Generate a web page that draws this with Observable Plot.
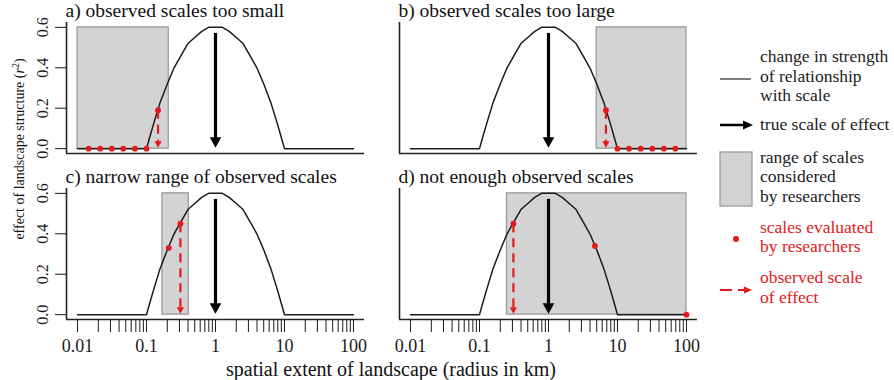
<!DOCTYPE html>
<html>
<head>
<meta charset="utf-8">
<script src="https://cdn.jsdelivr.net/npm/d3@7"></script>
<script src="https://cdn.jsdelivr.net/npm/@observablehq/plot@0.6"></script>
<style>
  html, body { margin: 0; padding: 0; background: #fff; }
  #chart svg { display: block; }
</style>
</head>
<body>
<div id="chart"></div>
<script>
// ---------- data ----------
const panelIds = ["a", "b", "c", "d"];
const panelTitles = [
  "a) observed scales too small",
  "b) observed scales too large",
  "c) narrow range of observed scales",
  "d) not enough observed scales"
];
const panelCols = [0, 1, 0, 1];
const panelRows = [0, 0, 1, 1];

// change in strength of relationship with scale (same curve in every panel)
const curveX = [0.01, 0.1, 0.112, 0.126, 0.158, 0.2, 0.251, 0.316, 0.398, 0.501, 0.631, 0.794, 1,
                1.26, 1.58, 2, 2.51, 3.16, 3.98, 5.01, 6.31, 7.94, 8.91, 10, 100];
const curveY = [0, 0, 0.06, 0.12, 0.23, 0.32, 0.40, 0.46, 0.52, 0.55, 0.58, 0.60, 0.60,
                0.60, 0.58, 0.55, 0.52, 0.46, 0.40, 0.32, 0.23, 0.12, 0.06, 0, 0];

// range of scales considered by researchers (grey boxes)
const rangeLow = [0.01, 5, 0.17, 0.25];
const rangeHigh = [0.21, 100, 0.41, 100];
const rangeBottom = [0, 0, 0, 0];
const rangeTop = [0.6, 0.6, 0.6, 0.6];

// true scale of effect (black arrows)
const trueScaleX = [1, 1, 1, 1];
const trueScaleTop = [0.57, 0.57, 0.57, 0.57];

// observed scale of effect (red dashed arrows)
const observedX = [0.147, 6.8, 0.31, 0.31];
const observedY = [0.19, 0.19, 0.45, 0.45];

// scales evaluated by researchers (red points)
const evalPanel = ["a","a","a","a","a","a","a", "b","b","b","b","b","b","b", "c","c", "d","d","d"];
const evalX = [0.0145, 0.0213, 0.0313, 0.046, 0.068, 0.1, 0.147,
               6.8, 10, 14.7, 21.7, 32, 47, 69,
               0.21, 0.31,
               0.31, 4.7, 100];
const evalY = [0, 0, 0, 0, 0, 0, 0.19,
               0.19, 0, 0, 0, 0, 0, 0,
               0.33, 0.45,
               0.45, 0.34, 0];

// axis ticks
const xMajorTicks = [0.01, 0.1, 1, 10, 100];
const xMajorLabels = ["0.01", "0.1", "1", "10", "100"];
const xMinorTicks = [0.02, 0.03, 0.04, 0.05, 0.06, 0.07, 0.08, 0.09,
                     0.2, 0.3, 0.4, 0.5, 0.6, 0.7, 0.8, 0.9,
                     2, 3, 4, 5, 6, 7, 8, 9,
                     20, 30, 40, 50, 60, 70, 80, 90];
const yTicks = [0, 0.2, 0.4, 0.6];
const yTickLabels = ["0.0", "0.2", "0.4", "0.6"];

// ---------- tables built from the arrays ----------
const panels = panelIds.map((id, i) => ({
  id, title: panelTitles[i], col: panelCols[i], row: panelRows[i],
  lo: rangeLow[i], hi: rangeHigh[i], yb: rangeBottom[i], yt: rangeTop[i],
  tx: trueScaleX[i], ttop: trueScaleTop[i],
  ox: observedX[i], oy: observedY[i], zero: 0
}));
const curve = curveX.map((x, i) => ({x, y: curveY[i]}));
const evals = evalX.map((x, i) => {
  const p = panelIds.indexOf(evalPanel[i]);
  return {x, y: evalY[i], col: panelCols[p], row: panelRows[p]};
});

const red = "#e31a1c";
const FONT = "Liberation Serif, Times New Roman, Times, serif";
const arrowDown = {
  draw(ctx, size) {
    const r = Math.sqrt(size / Math.PI);
    ctx.moveTo(0, 0);
    ctx.lineTo(-r, -1.8 * r);
    ctx.lineTo(r, -1.8 * r);
    ctx.closePath();
  }
};

const xDomain = [Math.pow(10, -2.16), Math.pow(10, 2.16)];
const yDomain = [-0.024, 0.624];

const chart = Plot.plot({
  width: 894,
  height: 380,
  marginLeft: 66,
  marginRight: 197,
  marginTop: 22,
  marginBottom: 61,
  style: {background: "#fff", color: "#1a1a1a"},
  x: {type: "log", domain: xDomain, label: null},
  y: {domain: yDomain, label: null},
  fx: {domain: [0, 1], paddingInner: 35 / 333, paddingOuter: 0, axis: null, label: null},
  fy: {domain: [0, 1], paddingInner: 35 / 166, paddingOuter: 0, axis: null, label: null},
  marks: [
    Plot.rect(panels, {x1: "lo", x2: "hi", y1: "yb", y2: "yt", fx: "col", fy: "row",
      fill: "#d3d3d3", stroke: "#9c9c9c", strokeWidth: 1.3}),
    Plot.ruleX([xDomain[0]], {stroke: "#222", strokeWidth: 1.6}),
    Plot.ruleY([yDomain[0]], {stroke: "#222", strokeWidth: 1.6}),
    Plot.line(curve, {x: "x", y: "y", stroke: "#1b1b1b", strokeWidth: 1.5}),
    Plot.ruleX(panels, {x: "tx", y1: "ttop", y2: "zero", fx: "col", fy: "row",
      stroke: "#000", strokeWidth: 3.2, insetBottom: 6}),
    Plot.dot(panels, {x: "tx", y: "zero", fx: "col", fy: "row", symbol: arrowDown, r: 5.8,
      fill: "#000", stroke: "none", dy: -1}),
    Plot.ruleX(panels, {x: "ox", y1: "oy", y2: "zero", fx: "col", fy: "row",
      stroke: red, strokeWidth: 2.2, strokeDasharray: "9,6", insetBottom: 4}),
    Plot.dot(panels, {x: "ox", y: "zero", fx: "col", fy: "row", symbol: arrowDown, r: 3.6,
      fill: red, stroke: "none", dy: -1}),
    Plot.dot(evals, {x: "x", y: "y", fx: "col", fy: "row", r: 2.9, fill: red, stroke: "none"}),
    Plot.text(panels, {text: "title", fx: "col", fy: "row", frameAnchor: "top-left",
      textAnchor: "start", lineAnchor: "bottom", dx: -1, dy: -6, fontSize: 19.5,
      fontFamily: FONT, fill: "#111"}),
    Plot.axisY({ticks: yTicks, tickFormat: d => yTickLabels[yTicks.indexOf(d)],
      tickSize: 11, tickPadding: 8, tickRotate: -90, fontSize: 16, fontFamily: FONT, label: null}),
    Plot.axisX({ticks: xMinorTicks, tickSize: 13, fill: "none", label: null}),
    Plot.axisX({ticks: xMajorTicks, tickFormat: d => xMajorLabels[xMajorTicks.indexOf(d)],
      tickSize: 13, tickPadding: 7, fontSize: 18, fontFamily: FONT, label: null})
  ]
});

chart.setAttribute("font-family", FONT);
document.getElementById("chart").appendChild(chart);

// ---------- axis titles and legend ----------
const svg = d3.select(chart);

svg.append("text")
  .attr("x", 391).attr("y", 375.5)
  .attr("text-anchor", "middle")
  .attr("font-family", FONT)
  .attr("font-size", 20)
  .attr("fill", "#111")
  .text("spatial extent of landscape (radius in km)");

const yt = svg.append("text")
  .attr("transform", "translate(24,149) rotate(-90)")
  .attr("text-anchor", "middle")
  .attr("font-family", FONT)
  .attr("font-size", 14)
  .attr("fill", "#111");
yt.append("tspan").text("effect of landscape structure (");
yt.append("tspan").attr("font-style", "italic").text("r");
yt.append("tspan").attr("font-size", 10).attr("dy", -5).text("2");
yt.append("tspan").attr("dy", 5).text(")");

const lg = svg.append("g").attr("font-size", 17.5).attr("font-family", FONT).attr("text-anchor", "start");
// curve swatch
lg.append("line").attr("x1", 720).attr("x2", 751).attr("y1", 79).attr("y2", 79)
  .attr("stroke", "#555").attr("stroke-width", 1.5);
// true scale arrow swatch
lg.append("line").attr("x1", 720).attr("x2", 744).attr("y1", 125).attr("y2", 125)
  .attr("stroke", "#000").attr("stroke-width", 2.5);
lg.append("path").attr("d", "M743,120.5L753,125L743,129.5Z").attr("fill", "#000");
// range box swatch
lg.append("rect").attr("x", 720).attr("y", 152).attr("width", 32).attr("height", 54)
  .attr("fill", "#d3d3d3").attr("stroke", "#9c9c9c").attr("stroke-width", 1.3);
// evaluated scales swatch
lg.append("circle").attr("cx", 736).attr("cy", 239).attr("r", 3).attr("fill", red);
// observed scale swatch
lg.append("line").attr("x1", 720).attr("x2", 732).attr("y1", 290).attr("y2", 290)
  .attr("stroke", red).attr("stroke-width", 2);
lg.append("line").attr("x1", 738).attr("x2", 745).attr("y1", 290).attr("y2", 290)
  .attr("stroke", red).attr("stroke-width", 2);
lg.append("path").attr("d", "M744,286.5L752,290L744,293.5Z").attr("fill", red);

const legendLines = [
  {t: "change in strength", y: 62, c: "#222"},
  {t: "of relationship", y: 82, c: "#222"},
  {t: "with scale", y: 101, c: "#222"},
  {t: "true scale of effect", y: 130, c: "#222"},
  {t: "range of scales", y: 163, c: "#222"},
  {t: "considered", y: 182, c: "#222"},
  {t: "by researchers", y: 202, c: "#222"},
  {t: "scales evaluated", y: 233, c: red},
  {t: "by researchers", y: 252, c: red},
  {t: "observed scale", y: 283, c: red},
  {t: "of effect", y: 303, c: red}
];
lg.selectAll("text.lg").data(legendLines).join("text")
  .attr("class", "lg")
  .attr("x", 760).attr("y", d => d.y)
  .attr("text-anchor", "start")
  .attr("font-family", FONT)
  .attr("fill", d => d.c)
  .text(d => d.t);

// make sure every text uses the serif face
svg.selectAll("text").attr("font-family", FONT).style("font-family", FONT);
</script>
</body>
</html>
